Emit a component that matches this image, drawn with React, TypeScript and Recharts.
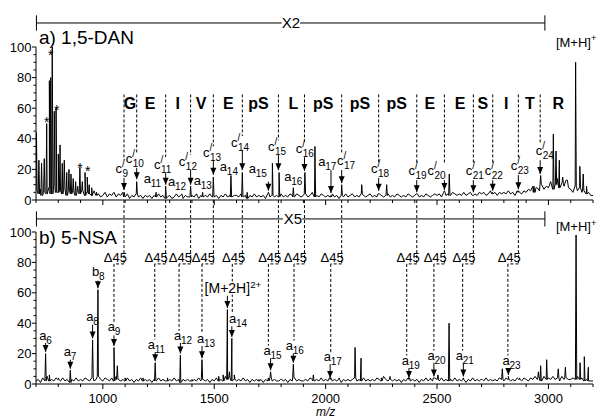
import React from "react";
import { LineChart, Line, XAxis, YAxis, ReferenceLine, ReferenceDot } from "recharts";

const FONT = "'Liberation Sans', Arial, Helvetica, sans-serif";
const INK = "#000";
const W = 597;
const H = 418;

// baseline noise is sampled every 10 m/z from 700 to 3200
const NOISE_START = 700;
const NOISE_STEP = 10;

// a) 1,5-DAN
const noiseA = [
  6, 4, 7, 3, 5, 4, 8, 4, 9, 5,
  5, 6, 4, 7, 3, 6, 4, 5, 3, 5,
  4, 6, 3, 5, 4, 3, 5, 3, 4, 2,
  3, 5, 2, 4, 3, 5, 2, 4, 3, 5,
  2, 4, 1, 3, 2, 4, 2, 3, 1, 3,
  2, 3, 1, 3, 2, 4, 2, 3, 1, 2,
  3, 1, 2, 4, 2, 3, 1, 3, 2, 2,
  3, 2, 4, 1, 3, 2, 3, 2, 4, 2,
  2, 3, 1, 3, 2, 4, 2, 3, 2, 3,
  3, 2, 4, 2, 3, 1, 3, 2, 4, 2,
  3, 2, 3, 1, 4, 2, 3, 2, 3, 2,
  4, 2, 3, 2, 4, 3, 2, 4, 3, 2,
  3, 4, 2, 3, 5, 2, 3, 2, 4, 3,
  2, 3, 2, 4, 2, 3, 1, 3, 2, 4,
  2, 3, 4, 2, 3, 2, 4, 3, 2, 3,
  4, 2, 3, 2, 4, 3, 2, 3, 4, 2,
  3, 2, 4, 3, 2, 3, 2, 4, 3, 2,
  3, 4, 2, 3, 2, 4, 3, 2, 3, 4,
  3, 4, 2, 5, 3, 4, 3, 5, 4, 3,
  4, 3, 5, 3, 4, 5, 3, 4, 3, 5,
  4, 5, 3, 4, 6, 4, 5, 3, 5, 4,
  5, 4, 6, 4, 5, 3, 6, 5, 4, 6,
  5, 7, 6, 9, 5, 8, 6, 10, 7, 9,
  8, 12, 7, 10, 14, 8, 11, 9, 13, 8,
  7, 5, 9, 6, 8, 5, 6, 4, 5, 3,
  3,
];

const peaksA: [number, number][] = [
  [702, 44], [713, 26], [725, 24], [737, 27], [748, 50], [760, 78], [766, 80], [773, 100], [782, 58], [790, 60],
  [800, 30], [808, 36], [818, 24], [827, 26], [838, 18], [848, 20], [857, 17], [867, 14], [878, 12], [887, 9],
  [897, 21], [908, 12], [920, 18], [930, 15], [939, 10], [950, 8], [960, 6], [972, 5],
  [1096, 5], [1152, 12], [1239, 5], [1282, 9], [1354, 4], [1394, 9], [1448, 5], [1496, 15], [1575, 16], [1626, 18],
  [1648, 5], [1743, 5], [1761, 24], [1791, 18], [1855, 8], [1907, 18], [1952, 35], [2024, 3], [2072, 10], [2162, 10],
  [2238, 4], [2274, 10], [2409, 4], [2533, 6], [2555, 17], [2661, 3], [2748, 5], [2863, 5], [2935, 9], [2947, 8],
  [2965, 16], [3022, 43], [3034, 32], [3049, 26], [3064, 15], [3082, 13], [3122, 90], [3141, 22], [3156, 17], [3171, 9],
];

// b) 5-NSA
const noiseB = [
  2, 3, 1, 4, 2, 5, 2, 3, 2, 4,
  3, 2, 4, 2, 3, 1, 3, 2, 4, 2,
  3, 2, 4, 3, 2, 4, 2, 3, 5, 3,
  2, 4, 3, 2, 4, 2, 5, 3, 2, 3,
  2, 4, 2, 3, 1, 3, 2, 4, 2, 3,
  2, 3, 1, 3, 2, 4, 2, 3, 2, 2,
  3, 2, 4, 2, 3, 1, 3, 2, 3, 2,
  2, 3, 2, 4, 2, 3, 2, 3, 1, 3,
  2, 4, 2, 3, 2, 5, 3, 4, 2, 3,
  2, 3, 2, 4, 2, 3, 1, 3, 2, 3,
  2, 3, 1, 3, 2, 4, 2, 3, 2, 2,
  3, 2, 3, 1, 3, 2, 4, 2, 3, 2,
  2, 3, 2, 4, 3, 2, 3, 2, 4, 2,
  3, 2, 4, 2, 3, 2, 3, 1, 3, 2,
  3, 2, 3, 4, 2, 3, 2, 4, 2, 3,
  2, 3, 2, 4, 3, 2, 5, 3, 2, 3,
  2, 3, 2, 3, 1, 3, 2, 4, 2, 3,
  2, 3, 1, 3, 2, 4, 2, 3, 2, 4,
  3, 2, 4, 2, 3, 2, 3, 2, 4, 2,
  3, 2, 3, 1, 3, 2, 4, 2, 3, 2,
  3, 2, 4, 2, 3, 2, 3, 2, 4, 3,
  2, 4, 3, 2, 3, 2, 4, 3, 2, 4,
  3, 2, 4, 3, 5, 3, 4, 2, 5, 3,
  4, 3, 5, 3, 4, 2, 5, 3, 4, 3,
  3, 4, 3, 5, 3, 4, 2, 3, 2, 2,
  2,
];

const peaksB: [number, number][] = [
  [743, 20], [760, 6], [800, 4], [854, 9], [954, 29], [978, 62], [1050, 24], [1065, 12], [1100, 4], [1180, 4],
  [1235, 14], [1290, 4], [1348, 19], [1400, 3], [1445, 16], [1520, 5], [1540, 6], [1559, 49], [1568, 8], [1579, 30],
  [1590, 6], [1700, 3], [1743, 4], [1753, 8], [1800, 3], [1855, 13], [1945, 6], [2020, 3], [2060, 4], [2132, 24],
  [2159, 17], [2250, 4], [2289, 5], [2374, 3], [2470, 4], [2486, 4], [2504, 6], [2554, 40], [2618, 4], [2700, 3],
  [2793, 10], [2820, 5], [2870, 4], [2955, 8], [2965, 12], [2992, 16], [3044, 10], [3076, 11], [3124, 98], [3142, 14],
  [3161, 18], [3179, 11],
];

const xTicks = [700, 800, 900, 1000, 1100, 1200, 1300, 1400, 1500, 1600, 1700, 1800, 1900, 2000, 2100, 2200, 2300, 2400, 2500, 2600, 2700, 2800, 2900, 3000, 3100, 3200];
const yTicks = [0, 5, 10, 15, 20, 25, 30, 35, 40, 45, 50, 55, 60, 65, 70, 75, 80, 85, 90, 95, 100];

// sequence letters read between the c' ladder lines
const seq: [string, number][] = [
  ["G", 1122], ["E", 1212], ["I", 1336], ["V", 1441], ["E", 1563], ["pS", 1698], ["L", 1855], ["pS", 1989],
  ["pS", 2154], ["pS", 2319], ["E", 2468], ["E", 2603], ["S", 2705], ["I", 2810], ["T", 2917], ["R", 3044],
];

// c' ions: [n, guide/arrow m/z, label m/z, label level, guide end, arrow start, arrow tip]
const cIons: [string, number, number, number, number, number, number][] = [
  ["9", 1095, 1085, 19.6, 26, 14.4, 6.5],
  ["10", 1152, 1144, 26, 31, 21, 13.5],
  ["11", 1282, 1270, 22, 28, 17.6, 10],
  ["12", 1394, 1382, 24, 29.4, 19.6, 10],
  ["13", 1496, 1490, 30, 35, 26, 16.5],
  ["14", 1626, 1616, 36.6, 41.8, 32.7, 19.5],
  ["15", 1788, 1782, 34, 39, 29.4, 19.5],
  ["16", 1905, 1907, 32.7, 38, 28, 19],
  ["17", 2072, 2092, 24.8, 30, 19.6, 11],
  ["18", 2238, 2244, 19.6, 24.8, 14.4, 6],
  ["19", 2409, 2413, 18.3, 23.5, 13, 5],
  ["20", 2533, 2498, 18.3, 23.5, 13, 6.5],
  ["21", 2663, 2670, 18.3, 23.5, 13, 5],
  ["22", 2750, 2755, 18.3, 23.5, 13, 6],
  ["23", 2865, 2872, 21.6, 26.8, 16.3, 7],
  ["24", 2963, 2984, 31.4, 36.6, 26, 17],
];

// a ions in panel a: [n, label m/z, label level, arrow m/z?, arrow start?, arrow tip?]
const aIonsA: (string | number)[][] = [
  ["11", 1224, 13], ["12", 1333, 11], ["13", 1449, 11.8], ["14", 1566, 21],
  ["15", 1696, 19.6, 1743, 12, 6], ["16", 1855, 14.4], ["17", 2008, 24.2, 2024, 19.5, 4.5],
];

const starsA: [number, number][] = [[766, 98], [748, 54.4], [793, 62], [897, 24.2], [932, 22.4]];

// ions in panel b: [letter, n, label m/z, label level, arrow m/z, arrow start, arrow tip]
const ionsB: [string, string, number, number, number, number, number][] = [
  ["a", "6", 743, 31, 743, 27, 21],
  ["a", "7", 853, 20.4, 854, 16, 10],
  ["a", "8", 954, 43.4, 954, 39, 30],
  ["b", "8", 980, 72.8, 978, 68, 63],
  ["a", "9", 1050, 36.8, 1050, 32, 25],
  ["a", "11", 1242, 25.2, 1235, 21, 15],
  ["a", "12", 1360, 31, 1348, 27, 20],
  ["a", "13", 1463, 29, 1445, 25, 17],
  ["a", "14", 1607, 42, 1579, 38, 31],
  ["a", "15", 1762, 21.2, 1753, 17, 9],
  ["a", "16", 1862, 24.5, 1855, 20, 14],
  ["a", "17", 2032, 17, 2020, 13, 4],
  ["a", "19", 2382, 14.7, 2374, 10.5, 4],
  ["a", "20", 2498, 18, 2486, 14, 5],
  ["a", "21", 2625, 18, 2618, 14, 5],
  ["a", "23", 2835, 14.7, 2820, 10.5, 6],
];

// Δ45 links from c' line down to a ion: [c' m/z, a m/z, lower end level]
const delta45: [number, number, number][] = [
  [1095, 1050, 40.8], [1282, 1233, 29.2], [1394, 1342, 35], [1496, 1445, 33],
  [1626, 1581, 46], [1788, 1743, 25.2], [1905, 1858, 28.5], [2072, 2023, 21],
  [2409, 2364, 18.7], [2533, 2486, 22], [2663, 2615, 22], [2865, 2818, 18.7],
];

function spectrum(noise: number[], peaks: [number, number][]) {
  const base = (mz: number) =>
    noise[Math.min(noise.length - 1, Math.max(0, Math.round((mz - NOISE_START) / NOISE_STEP)))];
  const pts = noise.map((v, i) => ({ mz: NOISE_START + i * NOISE_STEP, v }));
  peaks.forEach(([mz, h]) => {
    pts.push({ mz: mz - 3, v: base(mz) }, { mz, v: h }, { mz: mz + 3, v: base(mz) });
  });
  return pts.sort((a, b) => a.mz - b.mz);
}

const specA = spectrum(noiseA, peaksA);
const specB = spectrum(noiseB, peaksB);

/* ── small drawing helpers (all placed through the chart scales) ── */
const seg = (key: string, x1: number, y1: number, x2: number, y2: number, dashed = false) => (
  <ReferenceLine
    key={key}
    segment={[{ x: x1, y: y1 }, { x: x2, y: y2 }]}
    stroke={INK}
    strokeWidth={1}
    strokeDasharray={dashed ? "3 2" : undefined}
    ifOverflow="visible"
  />
);

const dot = (key: string, x: number, y: number, shape: (p: any) => React.ReactElement) => (
  <ReferenceDot key={key} x={x} y={y} r={0} ifOverflow="visible" shape={shape} />
);

const head = (p: any) => (
  <path d={`M${p.cx - 3},${p.cy - 7} L${p.cx + 3},${p.cy - 7} L${p.cx},${p.cy} Z`} fill={INK} />
);

const arrow = (key: string, mz: number, from: number, to: number) => [
  seg(key + "s", mz, from, mz, to),
  dot(key + "h", mz, to, head),
];

const text = (s: string, size: number, opt: { anchor?: string; weight?: number; italic?: boolean } = {}) =>
  (p: any) => (
    <text
      x={p.cx}
      y={p.cy}
      dy={size * 0.36}
      textAnchor={opt.anchor ?? "middle"}
      fontSize={size}
      fontWeight={opt.weight}
      fontStyle={opt.italic ? "italic" : undefined}
      fontFamily={FONT}
      fill={INK}
    >
      {s}
    </text>
  );

const ion = (base: string, sub: string, prime: boolean) => (p: any) => {
  const w = 7 + sub.length * 5.6;
  const x0 = p.cx - w / 2;
  return (
    <g fontFamily={FONT} fill={INK}>
      <text x={x0} y={p.cy + 3} fontSize={13}>{base}</text>
      {prime && <text x={x0 + 6.5} y={p.cy - 3} fontSize={10}>/</text>}
      <text x={x0 + 7} y={p.cy + 7} fontSize={10}>{sub}</text>
    </g>
  );
};

const star = (p: any) => (
  <text x={p.cx} y={p.cy + 10} textAnchor="middle" fontSize={14} fontFamily={FONT} fill={INK}>*</text>
);

const supLabel = (main: string, sup: string, size: number, mask = false) => (p: any) => (
  <text
    x={p.cx}
    y={p.cy + size * 0.36}
    textAnchor="middle"
    fontSize={size}
    fontFamily={FONT}
    fill={INK}
    stroke={mask ? "#fff" : undefined}
    strokeWidth={mask ? 3 : undefined}
    style={mask ? { paintOrder: "stroke" } : undefined}
  >
    {main}
    <tspan dy={-size * 0.4} fontSize={size * 0.7}>{sup}</tspan>
  </text>
);

const xTick = (labels: boolean) => (p: any) => {
  const v = p.payload.value;
  const major = v % 500 === 0;
  return (
    <g>
      <line x1={p.x} x2={p.x} y1={p.y} y2={p.y + (major ? 5 : 3)} stroke={INK} />
      {labels && major && (
        <text x={p.x} y={p.y + 18.5} textAnchor="middle" fontSize={13} fontFamily={FONT} fill={INK}>{v}</text>
      )}
    </g>
  );
};

const yTick = (p: any) => {
  const v = p.payload.value;
  const major = v % 20 === 0;
  return (
    <g>
      <line x1={p.x - (major ? 4 : 2.5)} x2={p.x} y1={p.y} y2={p.y} stroke={INK} />
      {major && (
        <text x={p.x - 4.5} y={p.y + 4.5} textAnchor="end" fontSize={13} fontFamily={FONT} fill={INK}>{v}</text>
      )}
    </g>
  );
};

// horizontal magnification bar ("X2", "X5")
const magBar = (key: string, label: string, level: number, lo: number, gapA: number, gapB: number, hi: number, labelMz: number) => [
  seg(key + "l", lo, level, gapA, level),
  seg(key + "r", gapB, level, hi, level),
  seg(key + "tl", lo + 2, level - 5, lo + 2, level + 5),
  seg(key + "tr", hi, level - 5, hi, level + 5),
  dot(key + "t", labelMz, level, text(label, 15)),
];

function TopPanel() {
  return (
    <LineChart width={W} height={H} data={specA} margin={{ top: 47, right: 4, bottom: 208, left: 0 }}>
      <XAxis type="number" dataKey="mz" domain={[700, 3200]} ticks={xTicks} interval={0} allowDataOverflow
        tick={xTick(false)} tickSize={0} tickMargin={0} tickLine={false} stroke={INK} height={10} />
      <YAxis type="number" domain={[0, 100]} ticks={yTicks} interval={0} allowDataOverflow
        tick={yTick} tickSize={0} tickMargin={0} tickLine={false} stroke={INK} width={36} />
      <Line type="linear" dataKey="v" stroke={INK} strokeWidth={1} dot={false} isAnimationActive={false} />

      {seq.map(([s, mz], i) => dot("seq" + i, mz, 63.4, text(s, 16, { weight: 700 })))}
      {cIons.map(([n, mz, lmz, lv, gEnd, a0, a1]) => [
        seg("cg" + n, mz, 69, mz, gEnd, true),
        dot("cl" + n, lmz, lv, ion("c", n, true)),
        ...arrow("ca" + n, mz, a0, a1),
      ])}
      {aIonsA.map((r) => {
        const [n, lmz, lv, amz, a0, a1] = r as [string, number, number, number?, number?, number?];
        const out = [dot("al" + n, lmz, lv, ion("a", n, false))];
        return amz !== undefined ? [...out, ...arrow("aa" + n, amz, a0 as number, a1 as number)] : out;
      })}
      {starsA.map(([mz, v], i) => dot("st" + i, mz, v, star))}
      {magBar("x2", "X2", 115.7, 700, 1803, 1885, 2984, 1844)}
      {dot("titleA", 713, 106.5, text("a) 1,5-DAN", 19, { anchor: "start" }))}
      {dot("mhA", 3124, 103.3, supLabel("[M+H]", "+", 13))}
    </LineChart>
  );
}

function BottomPanel() {
  return (
    <LineChart width={W} height={H} data={specB} margin={{ top: 232, right: 4, bottom: 4, left: 0 }}>
      <XAxis type="number" dataKey="mz" domain={[700, 3200]} ticks={xTicks} interval={0} allowDataOverflow
        tick={xTick(true)} tickSize={0} tickMargin={0} tickLine={false} stroke={INK} height={30} />
      <YAxis type="number" domain={[0, 100]} ticks={yTicks} interval={0} allowDataOverflow
        tick={yTick} tickSize={0} tickMargin={0} tickLine={false} stroke={INK} width={36} />
      <Line type="linear" dataKey="v" stroke={INK} strokeWidth={1} dot={false} isAnimationActive={false} />

      {delta45.map(([up, lo, end], i) => [
        seg("du" + i, up, 121, up, 79, true),
        seg("dh" + i, up, 79, lo, 79, true),
        seg("dl" + i, lo, 79, lo, end, true),
        dot("dt" + i, lo + 6, 83.5, text("Δ45", 13)),
      ])}
      {ionsB.map(([b, n, lmz, lv, amz, a0, a1]) => [
        dot("bl" + b + n, lmz, lv, ion(b, n, false)),
        ...arrow("ba" + b + n, amz, a0, a1),
      ])}
      {dot("m2h", 1584, 63, supLabel("[M+2H]", "2+", 14, true))}
      {arrow("m2ha", 1559, 58, 50)}
      {magBar("x5", "X5", 108.6, 700, 1808, 1895, 2984, 1853)}
      {dot("titleB", 713, 96.7, text("b) 5-NSA", 19, { anchor: "start" }))}
      {dot("mhB", 3124, 103.5, supLabel("[M+H]", "+", 13))}
      {dot("mz", 2000, -18.3, text("m/z", 12, { italic: true }))}
    </LineChart>
  );
}

export default function App() {
  return (
    <div style={{ position: "relative", width: W, height: H, background: "#fff", overflow: "hidden" }}>
      <style>{"body{margin:0}"}</style>
      <div style={{ position: "absolute", left: 0, top: 0 }}>
        <TopPanel />
      </div>
      <div style={{ position: "absolute", left: 0, top: 0 }}>
        <BottomPanel />
      </div>
    </div>
  );
}
